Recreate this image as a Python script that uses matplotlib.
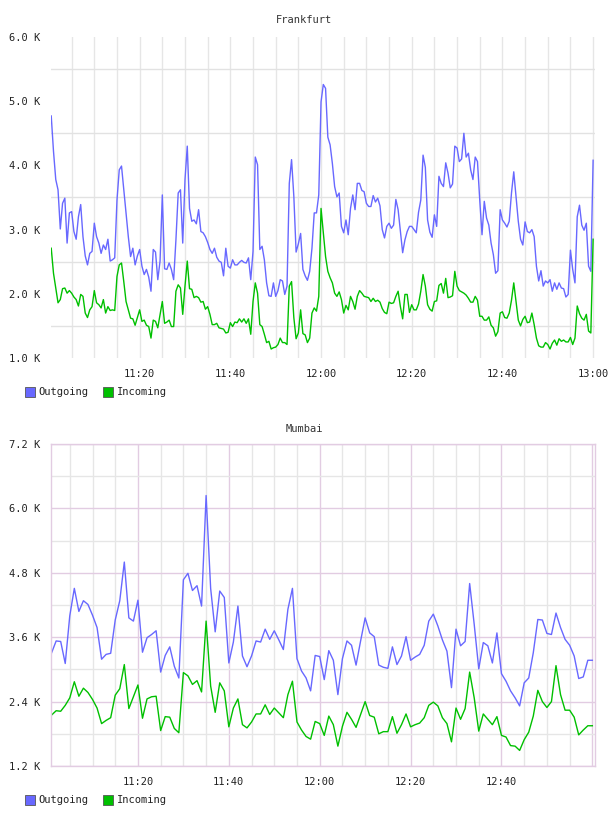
import matplotlib
matplotlib.use("Agg")
import matplotlib.pyplot as plt
import matplotlib.dates as mdates
from matplotlib.patches import Rectangle
import pandas as pd

# ---------------- data ----------------
fra_times = pd.date_range("2024-01-01 11:00:30", periods=240, freq="30s")
fra_outgoing = [
    4.77,4.22,3.78,3.62,3.01,3.41,3.49,2.79,3.26,3.28,
    2.97,2.85,3.20,3.39,2.89,2.59,2.45,2.63,2.66,3.10,
    2.89,2.79,2.63,2.76,2.69,2.85,2.51,2.53,2.56,3.46,
    3.93,3.99,3.62,3.26,2.89,2.58,2.71,2.45,2.59,2.69,
    2.43,2.30,2.38,2.26,2.04,2.69,2.65,2.22,2.51,3.54,
    2.39,2.38,2.48,2.38,2.22,2.84,3.57,3.62,2.79,3.78,
    4.30,3.33,3.13,3.15,3.09,3.31,2.97,2.95,2.89,2.80,
    2.69,2.63,2.71,2.57,2.51,2.49,2.28,2.71,2.43,2.40,
    2.53,
    2.45,2.45,2.49,2.52,2.49,2.48,2.56,2.22,2.66,4.13,
    4.01,2.69,2.74,2.53,2.17,1.97,1.96,2.17,1.96,2.05,
    2.22,2.20,1.99,2.12,3.72,4.09,3.52,2.65,2.78,2.94,
    2.38,2.28,2.21,2.35,2.71,3.26,3.26,3.54,4.99,5.26,
    5.20,4.44,4.32,4.03,3.67,3.51,3.57,3.05,2.95,3.15,
    2.92,3.33,3.54,3.31,3.72,3.72,3.61,3.59,3.41,3.36,
    3.36,3.53,3.43,3.49,3.37,3.00,2.87,3.05,3.10,3.02,
    3.07,3.47,3.31,2.97,2.64,2.84,2.97,3.05,3.05,
    3.00,2.95,3.27,3.46,4.16,3.97,3.15,2.96,2.88,3.23,
    3.05,3.83,3.72,3.67,4.04,3.88,3.65,3.71,4.30,4.27,
    4.06,4.10,4.50,4.13,4.19,3.93,3.78,4.13,4.06,3.46,
    2.92,3.44,3.18,3.07,2.79,2.61,2.32,2.36,3.31,3.15,
    3.10,3.04,3.13,3.57,3.90,3.51,3.13,2.85,2.76,3.12,
    2.97,2.95,3.00,2.89,2.43,2.20,2.36,2.12,2.20,2.17,
    2.22,2.04,2.17,2.07,2.17,2.09,2.08,1.95,1.99,2.68,
    2.38,2.17,3.20,3.38,3.07,2.99,3.10,2.43,2.35,4.08,
]
fra_incoming = [
    2.71,2.32,2.09,1.86,1.91,2.08,2.09,2.01,2.05,2.01,
    1.95,1.91,1.81,1.99,1.96,1.70,1.63,1.75,1.80,2.05,
    1.86,1.83,1.78,1.91,1.70,1.80,1.74,1.75,1.74,2.27,
    2.45,2.48,2.19,1.88,1.75,1.62,1.61,1.51,1.63,1.75,
    1.57,1.59,1.51,1.49,1.31,1.59,1.57,1.47,1.68,1.88,
    1.54,1.56,1.59,1.49,1.49,2.04,2.14,2.09,1.68,2.12,
    2.51,2.08,2.07,1.94,1.96,1.94,1.87,1.88,1.76,1.80,
    1.68,1.52,1.52,1.54,1.47,1.46,1.45,1.39,1.40,1.55,
    1.49,
    1.56,1.55,1.61,1.56,1.61,1.54,1.61,1.37,1.88,2.17,
    2.01,1.52,1.49,1.37,1.24,1.26,1.14,1.16,1.17,1.21,
    1.31,1.24,1.24,1.21,2.12,2.19,1.63,1.30,1.39,1.75,
    1.38,1.36,1.24,1.31,1.70,1.78,1.73,1.96,3.33,2.95,
    2.58,2.35,2.25,2.17,2.01,1.96,2.03,1.91,1.70,1.82,
    1.75,1.96,1.88,1.76,1.96,2.05,2.01,1.96,1.95,1.94,
    1.88,1.93,1.88,1.90,1.87,1.77,1.71,1.69,1.87,1.85,
    1.86,1.96,2.04,1.80,1.61,1.99,1.99,1.71,1.83,
    1.75,1.75,1.84,2.04,2.30,2.12,1.83,1.76,1.73,1.88,
    1.89,2.13,2.16,2.01,2.24,1.94,1.95,1.97,2.35,2.12,
    2.05,2.03,2.01,1.98,1.93,1.87,1.87,1.96,1.90,1.65,
    1.65,1.59,1.59,1.64,1.51,1.47,1.34,1.41,1.70,1.72,
    1.63,1.62,1.70,1.90,2.17,1.88,1.59,1.50,1.60,1.65,
    1.55,1.56,1.70,1.52,1.31,1.19,1.17,1.17,1.24,1.21,
    1.14,1.23,1.28,1.20,1.30,1.26,1.28,1.25,1.25,1.32,
    1.21,1.31,1.81,1.69,1.62,1.59,1.68,1.42,1.39,2.85,
]

mum_times = pd.date_range("2024-01-01 11:01:00", periods=120, freq="1min")
mum_outgoing = [
    3.31,3.53,3.52,3.11,4.00,4.51,4.08,4.28,4.21,4.01,
    3.78,3.19,3.28,3.30,3.92,4.28,5.00,3.96,3.90,4.29,
    3.32,3.59,3.65,3.72,2.95,3.26,3.42,3.06,2.84,4.67,
    4.79,4.47,4.56,4.18,6.24,4.51,3.70,4.46,4.34,3.12,
    3.51,
    4.18,3.25,3.05,3.25,3.53,3.51,3.75,3.56,3.72,3.55,
    3.37,4.12,4.51,3.20,2.97,2.84,2.60,3.26,3.24,2.81,
    3.35,3.17,2.53,3.20,3.53,3.45,3.08,3.53,3.96,3.68,
    3.61,3.08,3.04,3.02,3.42,3.09,3.25,3.61,3.17,
    3.23,3.28,3.45,3.90,4.03,3.81,3.55,3.34,2.66,3.75,
    3.44,3.52,4.60,3.84,3.01,3.50,3.44,3.12,3.68,2.92,
    2.78,2.60,2.47,2.32,2.75,2.84,3.31,3.93,3.92,3.67,
    3.65,4.05,3.78,3.56,3.45,3.25,2.83,2.86,3.17,3.17,
]
mum_incoming = [
    2.15,2.23,2.22,2.33,2.47,2.77,2.50,2.65,2.57,2.44,
    2.28,1.99,2.05,2.10,2.52,2.64,3.09,2.27,2.49,2.71,
    2.09,2.45,2.49,2.50,1.86,2.12,2.11,1.90,1.82,2.94,
    2.88,2.72,2.79,2.58,3.90,2.69,2.20,2.75,2.60,1.93,
    2.28,
    2.45,1.97,1.91,2.02,2.17,2.17,2.34,2.16,2.28,2.19,
    2.10,2.53,2.78,2.02,1.87,1.75,1.70,2.03,1.99,1.77,
    2.13,1.97,1.57,1.94,2.20,2.07,1.92,2.16,2.40,2.14,
    2.11,1.80,1.84,1.84,2.12,1.81,1.97,2.17,1.93,
    1.97,2.00,2.10,2.33,2.39,2.32,2.10,1.99,1.65,2.28,
    2.07,2.27,2.95,2.47,1.85,2.17,2.07,1.97,2.12,1.77,
    1.74,1.58,1.57,1.49,1.69,1.83,2.13,2.61,2.40,2.29,
    2.40,3.07,2.53,2.24,2.24,2.11,1.78,1.87,1.95,1.95,
]

fra_yticks = [1.0, 2.0, 3.0, 4.0, 5.0, 6.0]
fra_ygrid = [1.5, 2.5, 3.5, 4.5, 5.5]
mum_yticks = [1.2, 2.4, 3.6, 4.8, 6.0, 7.2]
mum_ygrid = [1.8, 3.0, 4.2, 5.4, 6.6]
series_names = ["Outgoing", "Incoming"]

# ---------------- style ----------------
BLUE = "#6868ff"
GREEN = "#00c000"
FONT = "DejaVu Sans Mono"
FS = 7.5
TXT = "#222222"

fig = plt.figure(figsize=(6.08, 8.16), dpi=100)
W, H = 608, 816


def ax_rect(l, t, r, b):
    return [l / W, 1 - b / H, (r - l) / W, (b - t) / H]


def kfmt(v, _pos=None):
    return f"{v:.1f} K"


def style_common(ax, yticks):
    ax.set_yticks(yticks)
    ax.set_yticklabels([kfmt(v) for v in yticks])
    ax.xaxis.set_major_formatter(mdates.DateFormatter("%H:%M"))
    ax.xaxis.set_minor_locator(mdates.MinuteLocator(byminute=range(0, 60, 5)))
    ax.tick_params(which="both", length=0)
    ax.tick_params(axis="y", pad=8)
    ax.tick_params(axis="x", pad=8)
    for lab in ax.get_xticklabels() + ax.get_yticklabels():
        lab.set_fontfamily(FONT)
        lab.set_fontsize(FS)
        lab.set_color(TXT)
    ax.set_axisbelow(True)


# ---- Frankfurt ----
ax1 = fig.add_axes(ax_rect(51, 37, 595, 358))
ax1.plot(fra_times, fra_outgoing, color=BLUE, lw=1.0)
ax1.plot(fra_times, fra_incoming, color=GREEN, lw=1.0)
ax1.set_ylim(1.0, 6.0)
ax1.set_xlim(pd.Timestamp("2024-01-01 11:00:27"), pd.Timestamp("2024-01-01 13:00:25"))
ax1.xaxis.set_major_locator(mdates.MinuteLocator(byminute=[0, 20, 40]))
style_common(ax1, fra_yticks)
ax1.set_yticks(fra_ygrid, minor=True)
ax1.grid(which="minor", axis="y", color="#e2e2e2", lw=1.0)
ax1.grid(which="both", axis="x", color="#e6e6e6", lw=1.0)
for s in ax1.spines.values():
    s.set_visible(False)

# ---- Mumbai ----
ax2 = fig.add_axes(ax_rect(51, 444, 595, 766))
ax2.plot(mum_times, mum_outgoing, color=BLUE, lw=1.0)
ax2.plot(mum_times, mum_incoming, color=GREEN, lw=1.0)
ax2.set_ylim(1.2, 7.2)
ax2.set_xlim(pd.Timestamp("2024-01-01 11:00:52"), pd.Timestamp("2024-01-01 13:00:35"))
ax2.xaxis.set_major_locator(mdates.MinuteLocator(byminute=[0, 20, 40]))
style_common(ax2, mum_yticks)
ax2.xaxis.set_major_formatter(
    plt.FuncFormatter(lambda x, p: "" if mdates.num2date(x).strftime("%H:%M") == "13:00"
                      else mdates.num2date(x).strftime("%H:%M")))
for lab in ax2.get_xticklabels():
    lab.set_fontfamily(FONT)
    lab.set_fontsize(FS)
ax2.set_yticks(mum_ygrid, minor=True)
ax2.grid(which="minor", axis="both", color="#e6e6e6", lw=1.0)
ax2.grid(which="major", axis="both", color="#e2cce2", lw=1.0)
for s in ax2.spines.values():
    s.set_color("#e2cce2")
    s.set_linewidth(1.0)

ax2.tick_params(axis="x", labelsize=FS)
for lab in ax2.get_xticklabels():
    lab.set_fontfamily(FONT)

# ---- titles ----
fig.text(0.5, 1 - 20 / H, "Frankfurt", ha="center", va="center",
         fontfamily=FONT, fontsize=FS, color="#333333")
fig.text(0.5, 1 - 429 / H, "Mumbai", ha="center", va="center",
         fontfamily=FONT, fontsize=FS, color="#333333")

# ---- legends ----
def legend(yc):
    colors = [BLUE, GREEN]
    xs_box = [25, 103]
    xs_txt = [38, 117]
    for name, c, xb, xt in zip(series_names, colors, xs_box, xs_txt):
        fig.patches.append(Rectangle((xb / W, 1 - (yc + 5) / H), 10 / W, 10 / H,
                                     transform=fig.transFigure, facecolor=c,
                                     edgecolor="#555555", lw=0.6))
        fig.text(xt / W, 1 - yc / H, name, ha="left", va="center",
                 fontfamily=FONT, fontsize=FS, color=TXT)


legend(392)
legend(800)

fig.savefig("out.png", dpi=100)
